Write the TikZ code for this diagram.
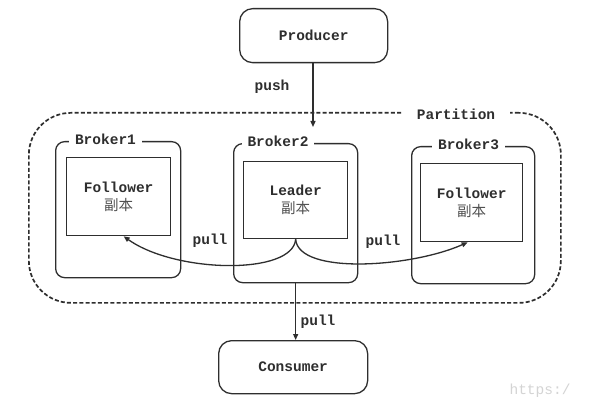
\documentclass[tikz,border=0pt]{standalone}
\usepackage{fontspec}
\setmonofont{Liberation Mono}
\newfontfamily\cjk{Noto Sans CJK SC}
\usetikzlibrary{arrows.meta,calc}
\definecolor{ink}{HTML}{2E2E2E}
\definecolor{cjkink}{HTML}{505050}
\definecolor{wm}{HTML}{D4D4D4}
\begin{document}
\begin{tikzpicture}[x=1pt,y=-1pt,
  txt/.style={font=\ttfamily\bfseries\fontsize{14.5}{19}\selectfont, text=ink},
  tag/.style={txt, fill=white, inner xsep=6pt, inner ysep=1pt},
  broker/.style={draw=ink, line width=1.3pt, rounded corners=9pt, anchor=north west, inner sep=0pt},
  replica/.style={draw=ink, line width=1.3pt, anchor=north west, inner sep=0pt, txt, align=center},
  endpoint/.style={draw=ink, line width=1.3pt, rounded corners=13pt, anchor=north west, inner sep=0pt, txt},
  conn/.style={draw=ink, line width=1.3pt, -{Triangle[length=6pt,width=5pt]}}
]
\fill[white] (0,0) rectangle (593,403);
\useasboundingbox (0,0) rectangle (593,403);

% partition
\node[draw=ink, line width=1.7pt, dash pattern=on 4pt off 2.2pt, rounded corners=42pt,
      anchor=north west, minimum width=532pt, minimum height=190pt, inner sep=0pt] (part) at (28,112) {};
\node[tag, inner xsep=15pt] (partlbl) at (456,114) {Partition};

% producer / consumer
\node[endpoint, minimum width=148pt, minimum height=54pt] (prod) at (239,8) {Producer};
\node[endpoint, minimum width=149pt, minimum height=53pt] (cons) at (218,340) {Consumer};

% brokers
\node[broker, minimum width=125pt, minimum height=136pt] (b1) at (55,141) {};
\node[broker, minimum width=124pt, minimum height=139pt] (b2) at (233,143) {};
\node[broker, minimum width=123pt, minimum height=137pt] (b3) at (411,146) {};
\node[tag] (b1lbl) at (105.5,139.5) {Broker1};
\node[tag] (b2lbl) at (278,141.5) {Broker2};
\node[tag] (b3lbl) at (468.5,144.5) {Broker3};

% replicas
\node[replica, minimum width=104pt, minimum height=78pt] (f1) at (66,157) {Follower\\[-1pt]{\cjk\mdseries\color{cjkink}副本}};
\node[replica, minimum width=104pt, minimum height=77pt] (ld) at (243,161) {Leader\\[-1pt]{\cjk\mdseries\color{cjkink}副本}};
\node[replica, minimum width=102pt, minimum height=78pt] (f3) at (420,163) {Follower\\[-1pt]{\cjk\mdseries\color{cjkink}副本}};

% push
\draw[conn, shorten >=16pt] (prod.south -| 313,0) -- (b2.north -| 313,0);
\node[txt] (pushlbl) at (272,87) {push};

% pulls between replicas
\draw[conn] (ld.south) .. controls ($(ld.south)+(-3,36)$) and ($(f1.south)+(57,37)$) .. ([xshift=5pt]f1.south);
\draw[conn] (ld.south) .. controls ($(ld.south)+(3,36)$) and ($(f3.south)+(-60,25)$) .. ([xshift=-4pt]f3.south);
\node[txt] (pull1) at (210,241) {pull};
\node[txt] (pull2) at (383,242) {pull};

% pull to consumer
\draw[conn] (b2.south -| ld.south) -- (cons.north -| ld.south);
\node[txt] (pull3) at (318,322) {pull};

% watermark
\node[font=\ttfamily\fontsize{14.5}{17}\selectfont, text=wm] (wmk) at (540,391) {https:/};
\end{tikzpicture}
\end{document}
